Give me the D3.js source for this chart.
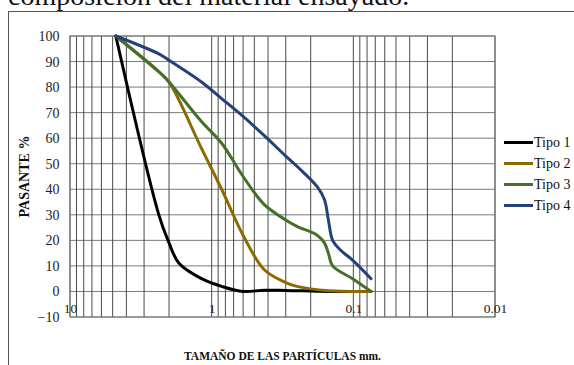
<!DOCTYPE html>
<html>
<head>
<meta charset="utf-8">
<script src="https://cdn.jsdelivr.net/npm/d3@7"></script>
<style>
  html, body { margin: 0; padding: 0; background: #fff; }
  svg { display: block; font-family: "Liberation Serif", "Times New Roman", serif; }
</style>
</head>
<body>
<svg id="chart" width="574" height="365"></svg>
<script>
// Particle sizes (mm) for each gradation curve and the matching percent passing
const tipo1Size = [4.75, 2.36, 2.0, 1.7, 1.18, 0.85, 0.6, 0.425, 0.3, 0.15, 0.075];
const tipo1Pass = [100, 30, 19, 11, 5, 2, 0, 0.5, 0.4, 0, 0];

const tipo2Size = [4.75, 2.36, 2.0, 1.18, 0.85, 0.6, 0.425, 0.3, 0.25, 0.15, 0.075];
const tipo2Pass = [100, 86, 82, 56, 40, 22, 8.5, 3.5, 2, 0.3, 0];

const tipo3Size = [4.75, 2.36, 2.0, 1.18, 0.85, 0.6, 0.425, 0.3, 0.25, 0.18, 0.16, 0.15, 0.14, 0.1, 0.075];
const tipo3Pass = [100, 86, 82, 66.5, 58, 45, 34, 28, 25.5, 22, 19, 15, 10, 4.8, 0];

const tipo4Size = [4.75, 2.36, 2.0, 1.18, 0.85, 0.6, 0.425, 0.3, 0.25, 0.18, 0.16, 0.15, 0.14, 0.125, 0.1, 0.075];
const tipo4Pass = [100, 93, 90.5, 82, 75.5, 68.5, 61, 53, 49, 41, 36, 28, 20, 16.5, 12, 5];

const seriesNames = ["Tipo 1", "Tipo 2", "Tipo 3", "Tipo 4"];
const seriesColors = ["#000000", "#8c6a00", "#44702a", "#24427a"];

const xTickLabels = [10, 1, 0.1, 0.01];
const yTickLabels = [-10, 0, 10, 20, 30, 40, 50, 60, 70, 80, 90, 100];

const headingText = "composición del material ensayado.";
const yTitle = "PASANTE %";
const xTitle = "TAMAÑO DE LAS PARTÍCULAS mm.";

const serifFont = "'Liberation Serif', 'Times New Roman', serif";

const series = [
  { name: seriesNames[0], color: seriesColors[0], pts: tipo1Size.map((d, i) => [d, tipo1Pass[i]]) },
  { name: seriesNames[1], color: seriesColors[1], pts: tipo2Size.map((d, i) => [d, tipo2Pass[i]]) },
  { name: seriesNames[2], color: seriesColors[2], pts: tipo3Size.map((d, i) => [d, tipo3Pass[i]]) },
  { name: seriesNames[3], color: seriesColors[3], pts: tipo4Size.map((d, i) => [d, tipo4Pass[i]]) }
];

const svg = d3.select("#chart");

// Text of the page above the figure (only its lower part shows)
svg.append("text")
  .attr("x", 8).attr("y", 5)
  .attr("font-size", 28)
  .attr("fill", "#111")
  .text(headingText);

// Chart frame
svg.append("rect")
  .attr("x", 8.5).attr("y", 11.5)
  .attr("width", 600).attr("height", 400)
  .attr("fill", "none")
  .attr("stroke", "#555")
  .attr("stroke-width", 1);

const plot = { left: 70, right: 495, top: 36, bottom: 317 };

const x = d3.scaleLog().domain([10, 0.01]).range([plot.left, plot.right]);
const y = d3.scaleLinear().domain([-10, 100]).range([plot.bottom, plot.top]);

// Horizontal gridlines
svg.append("g")
  .selectAll("line")
  .data(yTickLabels)
  .join("line")
  .attr("x1", plot.left).attr("x2", plot.right)
  .attr("y1", d => y(d)).attr("y2", d => y(d))
  .attr("stroke", "#7a7a7a")
  .attr("stroke-width", 1);

// Vertical log gridlines (1..9 in every decade)
svg.append("g")
  .selectAll("line")
  .data(x.ticks())
  .join("line")
  .attr("x1", d => x(d)).attr("x2", d => x(d))
  .attr("y1", plot.top).attr("y2", plot.bottom)
  .attr("stroke", "#4a4a4a")
  .attr("stroke-width", 1);

// Plot border
svg.append("rect")
  .attr("x", plot.left).attr("y", plot.top)
  .attr("width", plot.right - plot.left).attr("height", plot.bottom - plot.top)
  .attr("fill", "none")
  .attr("stroke", "#777")
  .attr("stroke-width", 1);

// Y axis labels
const yAxis = svg.append("g")
  .attr("transform", `translate(${plot.left},0)`)
  .call(d3.axisLeft(y).tickValues(yTickLabels).tickSize(0).tickPadding(10.5).tickFormat(d3.format("d")));
yAxis.select(".domain").remove();
yAxis.attr("font-family", null).attr("font-size", null);
yAxis.selectAll("text")
  .style("font-family", serifFont)
  .style("font-size", "14px")
  .attr("fill", "#222");

// X axis labels, hung below the zero line
const xAxis = svg.append("g")
  .attr("transform", `translate(0,${y(0)})`)
  .call(d3.axisBottom(x).tickValues(xTickLabels).tickSize(0).tickPadding(12).tickFormat(d => String(d)));
xAxis.select(".domain").remove();
xAxis.attr("font-family", null).attr("font-size", null);
xAxis.selectAll("text")
  .style("font-family", serifFont)
  .style("font-size", "13.5px")
  .attr("fill", "#222");

// Gradation curves
const line = d3.line()
  .x(d => x(d[0]))
  .y(d => y(d[1]))
  .curve(d3.curveCatmullRom.alpha(0.5));

svg.append("g")
  .selectAll("path")
  .data(series)
  .join("path")
  .attr("d", d => line(d.pts))
  .attr("fill", "none")
  .attr("stroke", d => d.color)
  .attr("stroke-width", 3)
  .attr("stroke-linejoin", "round")
  .attr("stroke-linecap", "round");

// Axis titles
svg.append("text")
  .attr("transform", `translate(29,${(plot.top + plot.bottom) / 2}) rotate(-90)`)
  .attr("text-anchor", "middle")
  .attr("font-size", 14)
  .attr("font-weight", "bold")
  .attr("fill", "#111")
  .text(yTitle);

svg.append("text")
  .attr("x", (plot.left + plot.right) / 2)
  .attr("y", 360)
  .attr("text-anchor", "middle")
  .attr("font-size", 11.5)
  .attr("font-weight", "bold")
  .attr("fill", "#111")
  .text(xTitle);

// Legend
const legend = svg.append("g")
  .selectAll("g")
  .data(series)
  .join("g")
  .attr("transform", (d, i) => `translate(504,${142.5 + i * 21})`);
legend.append("line")
  .attr("x1", 0).attr("x2", 29)
  .attr("stroke", d => d.color)
  .attr("stroke-width", 3);
legend.append("text")
  .attr("x", 30)
  .attr("dy", "0.35em")
  .attr("font-size", 14)
  .attr("fill", "#111")
  .text(d => d.name);
</script>
</body>
</html>
